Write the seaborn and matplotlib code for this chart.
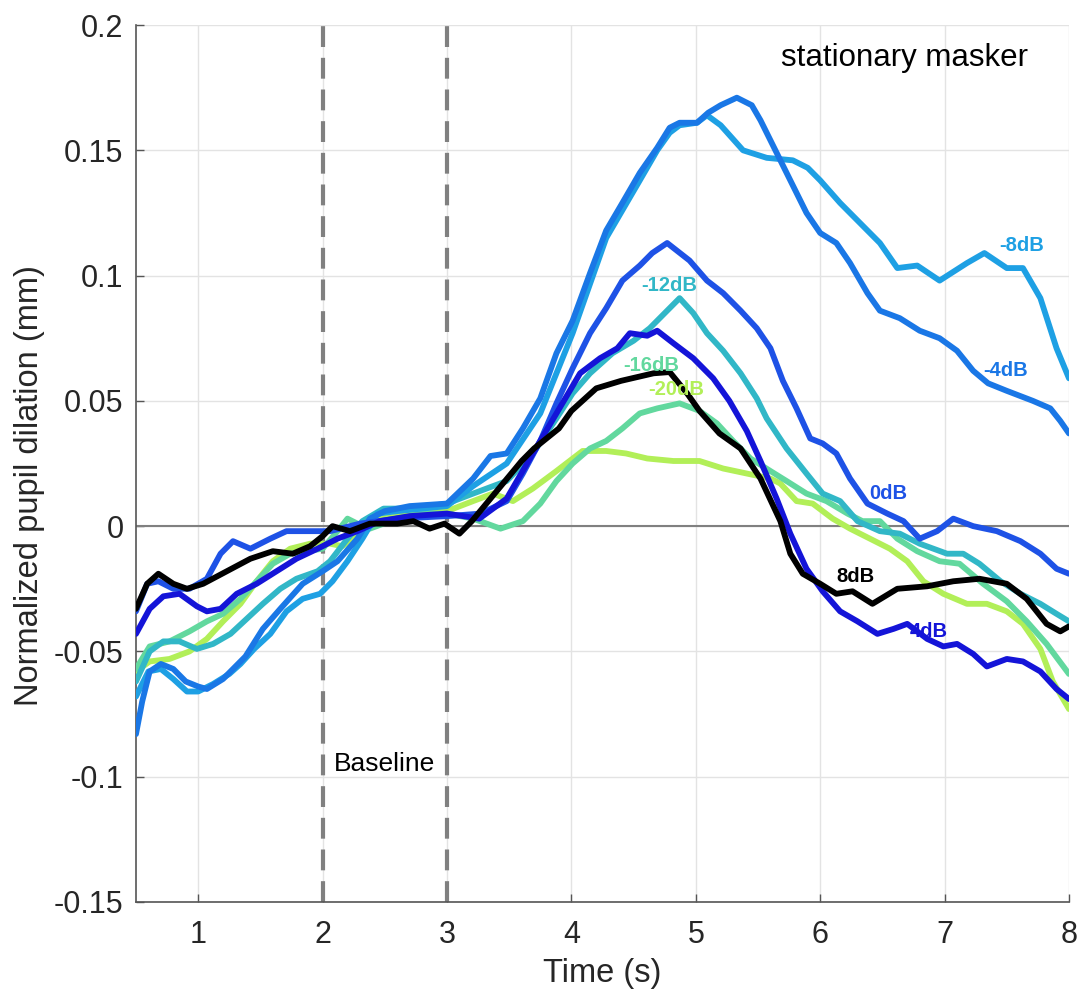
import numpy as np
import pandas as pd
import matplotlib
matplotlib.use("Agg")
import matplotlib.pyplot as plt
import seaborn as sns

# ---------------- data ----------------
conditions = ["-20dB", "-16dB", "-12dB", "-8dB", "-4dB", "0dB", "4dB", "8dB"]

t_m20 = [0.5,0.61,0.77,0.93,1.07,1.2,1.34,1.47,1.6,1.74,1.9,2.06,2.16,2.3,2.45,2.6,2.8,3.0,3.21,3.37,3.53,3.69,3.88,4.09,4.28,4.44,4.61,4.82,5.03,5.22,5.41,5.6,5.68,5.81,5.94,6.1,6.24,6.4,6.56,6.7,6.83,6.99,7.18,7.34,7.5,7.63,7.77,7.87,8.0]
y_m20 = [-0.058,-0.054,-0.053,-0.050,-0.045,-0.038,-0.031,-0.022,-0.014,-0.009,-0.007,-0.007,-0.008,-0.003,0.003,0.005,0.005,0.006,0.010,0.013,0.010,0.015,0.022,0.030,0.030,0.029,0.027,0.026,0.026,0.023,0.021,0.019,0.017,0.010,0.009,0.003,-0.001,-0.005,-0.009,-0.014,-0.022,-0.027,-0.031,-0.031,-0.034,-0.039,-0.049,-0.062,-0.073]

t_m16 = [0.5,0.61,0.77,0.93,1.07,1.2,1.34,1.47,1.6,1.74,1.87,2.0,2.12,2.2,2.28,2.38,2.6,2.8,3.0,3.21,3.43,3.61,3.75,3.88,4.01,4.15,4.28,4.41,4.55,4.69,4.87,5.03,5.17,5.3,5.44,5.6,5.73,5.89,6.05,6.22,6.34,6.48,6.62,6.78,6.96,7.12,7.31,7.5,7.66,7.82,8.0]
y_m16 = [-0.057,-0.048,-0.046,-0.042,-0.038,-0.035,-0.029,-0.022,-0.015,-0.011,-0.010,-0.009,-0.002,0.003,0.001,-0.001,0.003,0.005,0.005,0.003,-0.001,0.002,0.009,0.018,0.025,0.031,0.034,0.039,0.045,0.047,0.049,0.046,0.041,0.034,0.027,0.022,0.018,0.013,0.010,0.005,0.002,0.002,-0.005,-0.010,-0.014,-0.015,-0.023,-0.030,-0.038,-0.047,-0.059]

t_m12 = [0.5,0.61,0.72,0.85,0.99,1.12,1.26,1.39,1.52,1.66,1.79,1.96,2.06,2.2,2.32,2.49,2.73,3.0,3.21,3.48,3.69,3.88,4.01,4.15,4.33,4.5,4.63,4.77,4.87,4.98,5.09,5.22,5.36,5.49,5.57,5.73,5.89,6.02,6.16,6.3,6.48,6.64,6.8,7.02,7.15,7.28,7.45,7.61,7.77,7.9,8.0]
y_m12 = [-0.062,-0.050,-0.046,-0.046,-0.049,-0.047,-0.043,-0.037,-0.031,-0.025,-0.021,-0.018,-0.014,-0.005,0.002,0.007,0.007,0.009,0.013,0.018,0.029,0.043,0.053,0.061,0.069,0.074,0.079,0.086,0.091,0.085,0.077,0.070,0.061,0.051,0.043,0.031,0.021,0.013,0.010,0.002,-0.002,-0.003,-0.007,-0.011,-0.011,-0.015,-0.022,-0.027,-0.031,-0.035,-0.038]

t_m8 = [0.5,0.6,0.7,0.8,0.91,1.0,1.12,1.25,1.34,1.45,1.58,1.71,1.84,1.98,2.08,2.2,2.32,2.44,2.6,2.8,3.0,3.21,3.48,3.75,4.01,4.28,4.55,4.69,4.79,4.87,5.01,5.09,5.2,5.38,5.57,5.78,5.9,6.0,6.16,6.32,6.48,6.62,6.78,6.96,7.18,7.32,7.5,7.63,7.77,7.9,8.0]
y_m8 = [-0.068,-0.058,-0.057,-0.061,-0.066,-0.066,-0.063,-0.059,-0.055,-0.049,-0.043,-0.034,-0.029,-0.027,-0.022,-0.014,-0.005,0.005,0.006,0.007,0.008,0.016,0.025,0.045,0.077,0.115,0.138,0.150,0.157,0.160,0.161,0.164,0.160,0.150,0.147,0.146,0.143,0.138,0.129,0.121,0.113,0.103,0.104,0.098,0.105,0.109,0.103,0.103,0.091,0.071,0.059]

t_m4 = [0.5,0.55,0.61,0.7,0.8,0.9,1.0,1.07,1.2,1.26,1.38,1.52,1.66,1.84,2.0,2.12,2.28,2.38,2.5,2.7,3.0,3.21,3.35,3.48,3.61,3.75,3.88,4.01,4.15,4.28,4.41,4.55,4.69,4.79,4.87,5.01,5.1,5.2,5.33,5.45,5.52,5.65,5.76,5.89,6.0,6.13,6.24,6.38,6.48,6.64,6.8,6.96,7.1,7.23,7.35,7.5,7.71,7.85,7.93,8.0]
y_m4 = [-0.083,-0.070,-0.058,-0.055,-0.057,-0.062,-0.064,-0.065,-0.061,-0.058,-0.052,-0.041,-0.033,-0.023,-0.018,-0.014,-0.005,0.003,0.006,0.008,0.009,0.019,0.028,0.029,0.039,0.051,0.069,0.082,0.101,0.118,0.129,0.141,0.151,0.159,0.161,0.161,0.165,0.168,0.171,0.168,0.162,0.149,0.138,0.125,0.117,0.113,0.105,0.093,0.086,0.083,0.078,0.075,0.070,0.062,0.057,0.054,0.050,0.047,0.042,0.037]

t_0 = [0.5,0.59,0.68,0.8,0.93,1.07,1.18,1.28,1.42,1.58,1.71,1.92,2.06,2.3,2.6,3.0,3.27,3.48,3.61,3.75,3.88,4.01,4.15,4.28,4.41,4.55,4.65,4.77,4.95,5.09,5.22,5.36,5.49,5.6,5.7,5.81,5.92,6.02,6.13,6.24,6.38,6.54,6.67,6.8,6.94,7.07,7.23,7.42,7.61,7.77,7.9,8.0]
y_0 = [-0.034,-0.023,-0.022,-0.025,-0.025,-0.021,-0.011,-0.006,-0.009,-0.005,-0.002,-0.002,-0.002,0.001,0.003,0.004,0.005,0.010,0.021,0.034,0.049,0.063,0.077,0.087,0.098,0.104,0.109,0.113,0.106,0.098,0.093,0.086,0.079,0.071,0.058,0.047,0.035,0.033,0.029,0.019,0.009,0.005,0.002,-0.005,-0.002,0.003,0.000,-0.002,-0.006,-0.011,-0.017,-0.019]

t_p4 = [0.5,0.61,0.72,0.85,0.99,1.07,1.18,1.31,1.47,1.63,1.79,1.96,2.12,2.28,2.46,2.7,3.0,3.26,3.48,3.69,3.88,4.07,4.23,4.37,4.47,4.61,4.69,4.82,4.98,5.14,5.27,5.41,5.52,5.65,5.76,5.89,6.02,6.16,6.3,6.46,6.59,6.7,6.86,6.99,7.1,7.23,7.34,7.5,7.63,7.77,7.9,8.0]
y_p4 = [-0.043,-0.033,-0.028,-0.027,-0.032,-0.034,-0.033,-0.027,-0.023,-0.018,-0.013,-0.009,-0.005,-0.002,0.002,0.004,0.005,0.003,0.011,0.029,0.045,0.061,0.067,0.071,0.077,0.076,0.078,0.073,0.067,0.059,0.050,0.038,0.026,0.011,-0.003,-0.017,-0.026,-0.034,-0.038,-0.043,-0.041,-0.039,-0.045,-0.048,-0.047,-0.051,-0.056,-0.053,-0.054,-0.058,-0.065,-0.069]

t_p8 = [0.5,0.59,0.68,0.8,0.91,1.04,1.23,1.42,1.6,1.76,1.9,2.0,2.08,2.22,2.38,2.6,2.73,2.86,2.98,3.1,3.2,3.3,3.4,3.5,3.6,3.7,3.8,3.9,4.0,4.2,4.4,4.66,4.79,4.93,5.03,5.19,5.36,5.52,5.68,5.76,5.86,6.0,6.13,6.26,6.42,6.62,6.86,7.07,7.28,7.5,7.66,7.82,7.93,8.0]
y_p8 = [-0.033,-0.023,-0.019,-0.023,-0.025,-0.023,-0.018,-0.013,-0.010,-0.011,-0.008,-0.004,0.000,-0.002,0.001,0.001,0.002,-0.001,0.001,-0.003,0.002,0.008,0.014,0.020,0.026,0.031,0.035,0.039,0.046,0.055,0.058,0.061,0.0615,0.053,0.046,0.037,0.031,0.019,0.002,-0.011,-0.019,-0.023,-0.027,-0.026,-0.031,-0.025,-0.024,-0.022,-0.021,-0.023,-0.029,-0.039,-0.042,-0.040]

series_t = [t_m20, t_m16, t_m12, t_m8, t_m4, t_0, t_p4, t_p8]
series_y = [y_m20, y_m16, y_m12, y_m8, y_m4, y_0, y_p4, y_p8]

colors = ["#b2ef58", "#62d89e", "#31b7c7", "#1ea0e4", "#1a77e6", "#1e52e6", "#1414d8", "#000000"]

# label text positions (data coords)
label_x = [4.84, 4.64, 4.79, 7.62, 7.49, 6.55, 6.87, 6.28]
label_y = [0.0545, 0.064, 0.096, 0.112, 0.062, 0.0132, -0.042, -0.020]

x_ticks = [1, 2, 3, 4, 5, 6, 7, 8]
y_ticks = [-0.15, -0.1, -0.05, 0, 0.05, 0.1, 0.15, 0.2]
y_ticklabels = ["-0.15", "-0.1", "-0.05", "0", "0.05", "0.1", "0.15", "0.2"]

# ---------------- build long table ----------------
frames = []
for cond, tt, yy in zip(conditions, series_t, series_y):
    frames.append(pd.DataFrame({"time": tt, "dilation": yy, "condition": cond}))
df = pd.concat(frames, ignore_index=True)

# ---------------- style ----------------
sns.set_theme(style="whitegrid")
plt.rcParams["font.family"] = ["Liberation Sans", "DejaVu Sans"]

fig = plt.figure(figsize=(10.8, 10.05), dpi=100)
ax = fig.add_axes([0.1259, 0.1025, 0.8639, 0.8726])
ax.set_facecolor("white")

# baseline markers and zero line
ax.axhline(0, color="#808080", lw=1.5, zorder=1)
for xv in (2, 3):
    ax.axvline(xv, color="#808080", lw=3, linestyle=(0, (5, 2.6)), zorder=1)
n_ref_lines = len(ax.lines)

sns.lineplot(data=df, x="time", y="dilation", hue="condition",
             hue_order=conditions, palette=dict(zip(conditions, colors)),
             estimator=None, sort=False, legend=False, ax=ax, zorder=3)
for ln in ax.lines[n_ref_lines:]:
    ln.set_linewidth(4.2)
    ln.set_solid_joinstyle("round")
    ln.set_solid_capstyle("round")

for cond, c, lx, ly in zip(conditions, colors, label_x, label_y):
    ax.text(lx, ly, cond, color=c, fontsize=14.5, fontweight="bold",
            ha="center", va="center", zorder=4)

ax.text(2.5, -0.095, "Baseline", fontsize=19, ha="center", va="center", color="black")
ax.text(6.68, 0.187, "stationary masker", fontsize=22.5, ha="center", va="center", color="black")

ax.set_xlim(0.5, 8)
ax.set_ylim(-0.15, 0.2)
ax.set_xticks(x_ticks)
ax.set_xticklabels([str(v) for v in x_ticks])
ax.set_yticks(y_ticks)
ax.set_yticklabels(y_ticklabels)

ax.grid(True, color="#e3e3e3", lw=1)
ax.tick_params(axis="both", direction="in", length=6, width=1, color="#555555",
               labelsize=22, labelcolor="#262626")
ax.tick_params(axis="x", pad=13)
ax.tick_params(axis="y", pad=9)
ax.tick_params(left=True, bottom=True)

for side in ("top", "right"):
    ax.spines[side].set_visible(False)
for side in ("left", "bottom"):
    ax.spines[side].set_visible(True)
    ax.spines[side].set_color("#555555")
    ax.spines[side].set_linewidth(1.2)

ax.set_xlabel("Time (s)", fontsize=23.5, color="#262626")
ax.set_ylabel("Normalized pupil dilation (mm)", fontsize=23.5, color="#262626")
ax.xaxis.set_label_coords(0.5, -0.064)
ax.yaxis.set_label_coords(-0.098, 0.475)

fig.savefig("out.png", dpi=100)
